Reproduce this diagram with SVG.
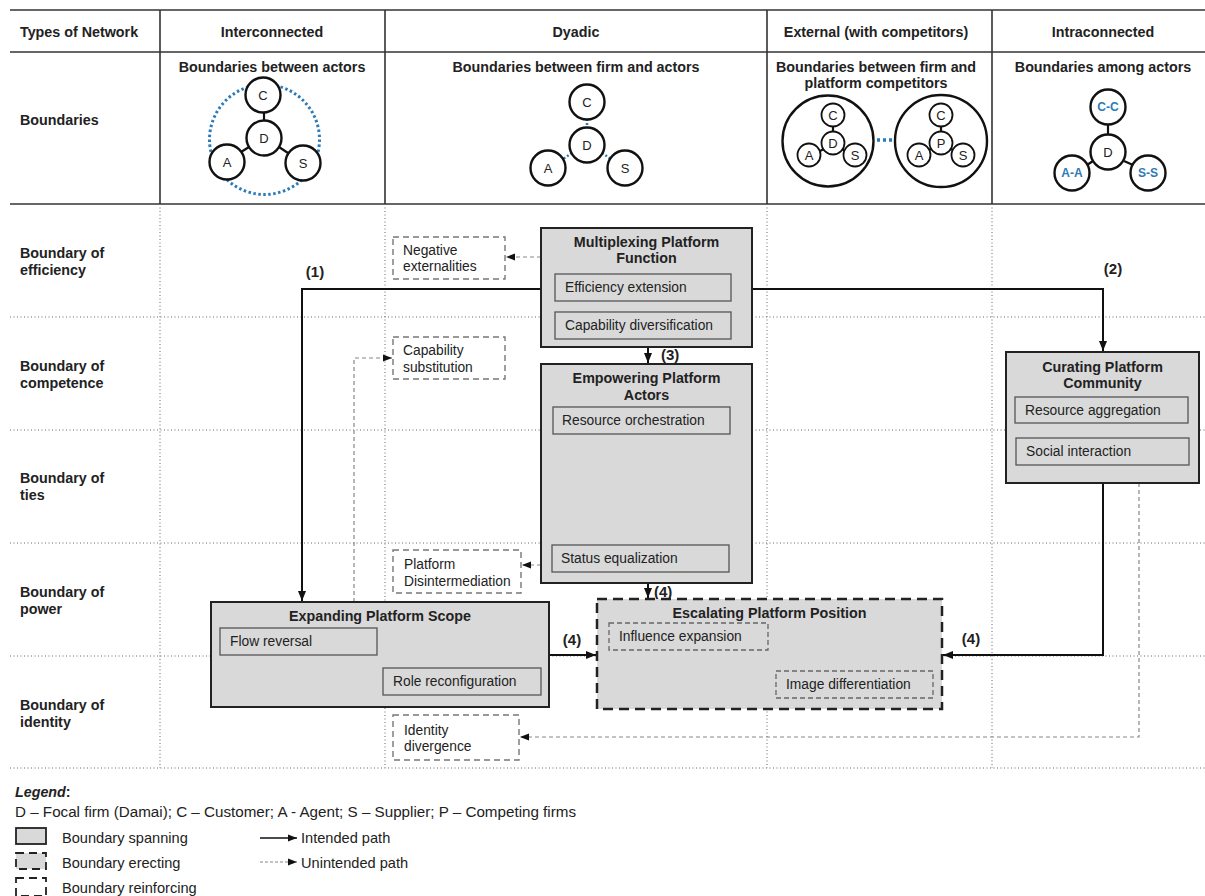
<svg xmlns="http://www.w3.org/2000/svg" width="1205" height="896" viewBox="0 0 1205 896">
<defs>
<style>
text{font-family:"Liberation Sans",Arial,sans-serif;fill:#222}
.b{font-weight:bold;font-size:14.3px}
.t{font-size:13.8px}
.lg{font-size:14.6px}
.c{text-anchor:middle}
.sol{stroke:#333;stroke-width:1.6;fill:none}
.dot{stroke:#666;stroke-width:1;stroke-dasharray:1 2.5;fill:none}
.node{fill:#d9d9d9;stroke:#222;stroke-width:2}
.inner{fill:#d9d9d9;stroke:#555;stroke-width:1.3}
.innerd{fill:#d9d9d9;stroke:#666;stroke-width:1.3;stroke-dasharray:5 3}
.erect{fill:#d9d9d9;stroke:#222;stroke-width:2.5;stroke-dasharray:10 6}
.reinf{fill:#fff;stroke:#777;stroke-width:1.4;stroke-dasharray:6 4}
.circ{fill:#fff;stroke:#111;stroke-width:2.4}
.circs{fill:#fff;stroke:#111;stroke-width:1.8}
.lk{stroke:#111;stroke-width:2.2}
.bl{stroke:#2b7bb9;stroke-width:3;stroke-dasharray:2.5 2.5;fill:none}
.ct{font-size:13px;text-anchor:middle}
.btx{font-size:12px;font-weight:bold;fill:#2b7bb9;text-anchor:middle}
.arr{stroke:#111;stroke-width:2;fill:none;marker-end:url(#ah)}
.uarr{stroke:#888;stroke-width:1.2;stroke-dasharray:4 3;fill:none;marker-end:url(#ahg)}
</style>
<marker id="ah" markerUnits="userSpaceOnUse" markerWidth="10" markerHeight="10" viewBox="0 0 10 10" refX="10" refY="5" orient="auto"><path d="M0,1 L10,5 L0,9 Z" fill="#111"/></marker>
<marker id="ahg" markerUnits="userSpaceOnUse" markerWidth="9" markerHeight="9" viewBox="0 0 10 10" refX="10" refY="5" orient="auto"><path d="M0,1 L10,5 L0,9 Z" fill="#111"/></marker>
</defs>
<rect width="1205" height="896" fill="#fff"/>

<g id="table">
<line class="sol" x1="10" y1="10" x2="1205" y2="10" stroke-width="2"/>
<line class="sol" x1="10" y1="52" x2="1205" y2="52" stroke-width="2"/>
<line class="sol" x1="10" y1="204" x2="1205" y2="204" stroke-width="2"/>
<line class="sol" x1="160" y1="10" x2="160" y2="204"/>
<line class="sol" x1="385" y1="10" x2="385" y2="204"/>
<line class="sol" x1="767" y1="10" x2="767" y2="204"/>
<line class="sol" x1="992" y1="10" x2="992" y2="204"/>
<text class="b" x="20" y="37">Types of Network</text>
<text class="b c" x="272" y="37">Interconnected</text>
<text class="b c" x="576" y="37">Dyadic</text>
<text class="b c" x="876" y="37">External (with competitors)</text>
<text class="b c" x="1103" y="37">Intraconnected</text>
<text class="b" x="20" y="125">Boundaries</text>
<text class="b c" x="272" y="72">Boundaries between actors</text>
<text class="b c" x="576" y="72">Boundaries between firm and actors</text>
<text class="b c" x="876" y="72">Boundaries between firm and</text>
<text class="b c" x="876" y="88">platform competitors</text>
<text class="b c" x="1103" y="72">Boundaries among actors</text>
</g>

<g id="grid">
<line class="dot" x1="10" y1="317" x2="1205" y2="317"/>
<line class="dot" x1="10" y1="430" x2="1205" y2="430"/>
<line class="dot" x1="10" y1="543" x2="1205" y2="543"/>
<line class="dot" x1="10" y1="656" x2="1205" y2="656"/>
<line class="dot" x1="10" y1="768" x2="1205" y2="768"/>
<line class="dot" x1="160" y1="204" x2="160" y2="768"/>
<line class="dot" x1="385" y1="204" x2="385" y2="768"/>
<line class="dot" x1="767" y1="204" x2="767" y2="768"/>
<line class="dot" x1="992" y1="204" x2="992" y2="768"/>
<text class="b" x="20" y="258">Boundary of</text>
<text class="b" x="20" y="275">efficiency</text>
<text class="b" x="20" y="371">Boundary of</text>
<text class="b" x="20" y="388">competence</text>
<text class="b" x="20" y="483">Boundary of</text>
<text class="b" x="20" y="500">ties</text>
<text class="b" x="20" y="597">Boundary of</text>
<text class="b" x="20" y="614">power</text>
<text class="b" x="20" y="710">Boundary of</text>
<text class="b" x="20" y="727">identity</text>
</g>

<g id="interconnected-icon">
<circle class="bl" cx="264.5" cy="139.5" r="55"/>
<line class="lk" x1="264" y1="112" x2="264" y2="121"/>
<line class="lk" x1="249" y1="147" x2="241" y2="152"/>
<line class="lk" x1="279" y1="147" x2="288" y2="153"/>
<circle class="circ" cx="263" cy="95" r="17.5"/><text class="ct" x="263" y="100">C</text>
<circle class="circ" cx="264" cy="138" r="17.5"/><text class="ct" x="264" y="143">D</text>
<circle class="circ" cx="227" cy="162" r="17.5"/><text class="ct" x="227" y="167">A</text>
<circle class="circ" cx="303" cy="163" r="17.5"/><text class="ct" x="303" y="168">S</text>
</g>

<g id="dyadic-icon">
<line x1="587" y1="119" x2="587" y2="128" stroke="#2b7bb9" stroke-width="2.5" stroke-dasharray="2 2"/>
<line x1="572" y1="153" x2="563" y2="159" stroke="#2b7bb9" stroke-width="2.5" stroke-dasharray="2 2"/>
<line x1="602" y1="153" x2="611" y2="159" stroke="#2b7bb9" stroke-width="2.5" stroke-dasharray="2 2"/>
<circle class="circ" cx="587" cy="102" r="17.5"/><text class="ct" x="587" y="107">C</text>
<circle class="circ" cx="587" cy="145" r="17.5"/><text class="ct" x="587" y="150">D</text>
<circle class="circ" cx="548" cy="168" r="17.5"/><text class="ct" x="548" y="173">A</text>
<circle class="circ" cx="625" cy="168" r="17.5"/><text class="ct" x="625" y="173">S</text>
</g>

<g id="external-icon">
<circle class="circ" cx="828" cy="141" r="45.5"/>
<circle class="circ" cx="941" cy="141" r="46"/>
<line x1="877" y1="140" x2="894" y2="140" stroke="#2b7bb9" stroke-width="3.5" stroke-dasharray="3 3"/>
<line class="lk" x1="833" y1="126" x2="833" y2="132" stroke-width="1.8"/>
<line class="lk" x1="824" y1="149" x2="818" y2="152" stroke-width="1.8"/>
<line class="lk" x1="842" y1="149" x2="847" y2="152" stroke-width="1.8"/>
<circle class="circs" cx="833" cy="115" r="11.5"/><text class="ct" x="833" y="120">C</text>
<circle class="circs" cx="833" cy="143" r="11.5"/><text class="ct" x="833" y="148">D</text>
<circle class="circs" cx="809" cy="155" r="11.5"/><text class="ct" x="809" y="160">A</text>
<circle class="circs" cx="855" cy="155" r="11.5"/><text class="ct" x="855" y="160">S</text>
<line class="lk" x1="941" y1="126" x2="941" y2="132" stroke-width="1.8"/>
<line class="lk" x1="931" y1="149" x2="927" y2="151" stroke-width="1.8"/>
<line class="lk" x1="951" y1="149" x2="955" y2="151" stroke-width="1.8"/>
<circle class="circs" cx="941" cy="115" r="11.5"/><text class="ct" x="941" y="120">C</text>
<circle class="circs" cx="941" cy="143" r="11.5"/><text class="ct" x="941" y="148">P</text>
<circle class="circs" cx="919" cy="155" r="11.5"/><text class="ct" x="919" y="160">A</text>
<circle class="circs" cx="963" cy="155" r="11.5"/><text class="ct" x="963" y="160">S</text>
</g>

<g id="intraconnected-icon">
<line class="lk" x1="1108" y1="124" x2="1108" y2="135"/>
<line class="lk" x1="1093" y1="161" x2="1087" y2="165"/>
<line class="lk" x1="1124" y1="161" x2="1133" y2="165"/>
<circle class="circ" cx="1108" cy="107" r="17.5"/><text class="btx" x="1108" y="111">C-C</text>
<circle class="circ" cx="1108" cy="152" r="17.5"/><text class="ct" x="1108" y="157">D</text>
<circle class="circ" cx="1072" cy="173" r="17.5"/><text class="btx" x="1072" y="177">A-A</text>
<circle class="circ" cx="1148" cy="173" r="17.5"/><text class="btx" x="1148" y="177">S-S</text>
</g>

<g id="connectors">
<path class="arr" d="M541,289 H302 V601"/>
<path class="arr" d="M752,289 H1103 V351"/>
<path class="arr" d="M648,347 V363"/>
<path class="arr" d="M648,583 V598"/>
<path class="arr" d="M549,655 H596"/>
<path class="arr" d="M1103,483 V655 H943"/>
<path class="uarr" d="M541,257 H506"/>
<path class="uarr" d="M541,565 H522"/>
<path class="uarr" d="M354,602 V358 H392"/>
<path class="uarr" d="M1139,483 V737 H520"/>
<text class="b c" x="315" y="277" style="font-size:15px">(1)</text>
<text class="b c" x="1113" y="274" style="font-size:15px">(2)</text>
<text class="b" x="661" y="360" style="font-size:15px">(3)</text>
<text class="b" x="654" y="597" style="font-size:15px">(4)</text>
<text class="b c" x="572" y="645" style="font-size:15px">(4)</text>
<text class="b c" x="971" y="644" style="font-size:15px">(4)</text>
</g>

<g id="multiplexing">
<rect class="node" x="541" y="228" width="211" height="119"/>
<text class="b c" x="646.5" y="247">Multiplexing Platform</text>
<text class="b c" x="646.5" y="263">Function</text>
<rect class="inner" x="555" y="274" width="176" height="27"/>
<text class="t" x="565" y="292">Efficiency extension</text>
<rect class="inner" x="555" y="312" width="176" height="27"/>
<text class="t" x="565" y="330">Capability diversification</text>
</g>

<g id="empowering">
<rect class="node" x="541" y="364" width="211" height="219"/>
<text class="b c" x="646.5" y="383">Empowering Platform</text>
<text class="b c" x="646.5" y="400">Actors</text>
<rect class="inner" x="553" y="407" width="177" height="27"/>
<text class="t" x="562" y="425">Resource orchestration</text>
<rect class="inner" x="552" y="545" width="177" height="27"/>
<text class="t" x="561" y="563">Status equalization</text>
</g>

<g id="curating">
<rect class="node" x="1006" y="352" width="193" height="131"/>
<text class="b c" x="1102.5" y="372">Curating Platform</text>
<text class="b c" x="1102.5" y="388">Community</text>
<rect class="inner" x="1015" y="397" width="173" height="26"/>
<text class="t" x="1025" y="415">Resource aggregation</text>
<rect class="inner" x="1016" y="438" width="173" height="27"/>
<text class="t" x="1026" y="456">Social interaction</text>
</g>

<g id="expanding">
<rect class="node" x="211" y="602" width="338" height="105"/>
<text class="b c" x="380" y="621">Expanding Platform Scope</text>
<rect class="inner" x="220" y="628" width="157" height="27"/>
<text class="t" x="230" y="646">Flow reversal</text>
<rect class="inner" x="383" y="668" width="158" height="27"/>
<text class="t" x="393" y="686">Role reconfiguration</text>
</g>

<g id="escalating">
<rect class="erect" x="597" y="599" width="345" height="110"/>
<text class="b c" x="769.5" y="618">Escalating Platform Position</text>
<rect class="innerd" x="609" y="623" width="159" height="27"/>
<text class="t" x="619" y="641">Influence expansion</text>
<rect class="innerd" x="776" y="671" width="157" height="27"/>
<text class="t" x="786" y="689">Image differentiation</text>
</g>

<g id="negative-externalities">
<rect class="reinf" x="393" y="237" width="112" height="42"/>
<text class="t" x="403" y="255">Negative</text>
<text class="t" x="403" y="271">externalities</text>
</g>
<g id="capability-substitution">
<rect class="reinf" x="393" y="337" width="112" height="42"/>
<text class="t" x="403" y="355">Capability</text>
<text class="t" x="403" y="372">substitution</text>
</g>
<g id="platform-disintermediation">
<rect class="reinf" x="393" y="550" width="128" height="43"/>
<text class="t" x="404" y="569">Platform</text>
<text class="t" x="404" y="586">Disintermediation</text>
</g>
<g id="identity-divergence">
<rect class="reinf" x="393" y="715" width="126" height="45"/>
<text class="t" x="404" y="735">Identity</text>
<text class="t" x="404" y="751">divergence</text>
</g>

<g id="legend">
<text x="15" y="797" style="font-size:14.3px;font-weight:bold;font-style:italic">Legend<tspan style="font-style:normal">:</tspan></text>
<text class="lg" x="15" y="817" style="font-size:15.2px">D – Focal firm (Damai); C – Customer; A - Agent; S – Supplier; P – Competing firms</text>
<rect x="16" y="828" width="30" height="16" fill="#d9d9d9" stroke="#222" stroke-width="1.8"/>
<rect x="16" y="853" width="30" height="16" fill="#d9d9d9" stroke="#222" stroke-width="1.8" stroke-dasharray="8 5"/>
<rect x="16" y="878" width="30" height="18" fill="#fff" stroke="#222" stroke-width="1.8" stroke-dasharray="8 5"/>
<text class="lg" x="62" y="843">Boundary spanning</text>
<text class="lg" x="62" y="868">Boundary erecting</text>
<text class="lg" x="62" y="893">Boundary reinforcing</text>
<line x1="260" y1="838" x2="297" y2="838" stroke="#111" stroke-width="1.6" marker-end="url(#ahg)"/>
<line x1="260" y1="862" x2="297" y2="862" stroke="#888" stroke-width="1.2" stroke-dasharray="3 2" marker-end="url(#ahg)"/>
<text class="lg" x="301" y="843">Intended path</text>
<text class="lg" x="301" y="868">Unintended path</text>
</g>
</svg>
